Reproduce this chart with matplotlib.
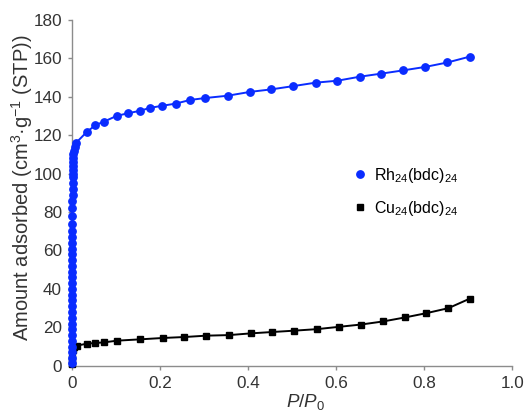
import matplotlib
matplotlib.use("Agg")
import matplotlib.pyplot as plt

plt.rcParams["font.family"] = ["Liberation Sans", "DejaVu Sans"]
plt.rcParams["mathtext.fontset"] = "custom"
plt.rcParams["mathtext.rm"] = "Liberation Sans"
plt.rcParams["mathtext.it"] = "Liberation Sans:italic"

# Rh24(bdc)24 isotherm
rh_x = [0.0002, 0.0003, 0.0003, 0.0004, 0.0004, 0.0005, 0.0005, 0.0006, 0.0006,
        0.0007, 0.0007, 0.0008, 0.0008, 0.0009, 0.0009, 0.001, 0.001, 0.0011,
        0.0011, 0.0012, 0.0012, 0.0013, 0.0013, 0.0014, 0.0015, 0.0016, 0.0017,
        0.0018, 0.0019, 0.002, 0.0021, 0.0022, 0.0024, 0.0026, 0.0028, 0.003,
        0.0035, 0.004, 0.005, 0.007, 0.01,
        0.034, 0.054, 0.073, 0.102, 0.128, 0.154, 0.178, 0.204, 0.236, 0.269,
        0.303, 0.354, 0.405, 0.453, 0.503, 0.554, 0.603, 0.654, 0.703, 0.753,
        0.803, 0.853, 0.903]
rh_y = [1.5, 4, 7, 10, 13, 16, 19, 22, 25, 28, 31, 34, 37, 40, 43, 46, 49, 52,
        55, 58, 61, 64, 67, 70, 74, 78, 82, 86, 89, 92, 95, 98, 100, 102, 104,
        106, 108, 110, 112, 114, 116,
        121.6, 125.2, 127, 130, 131.4, 132.6, 134.2, 135.2, 136.4, 138.3,
        139.3, 140.5, 142.5, 143.8, 145.5, 147.3, 148.3, 150.4, 152, 153.7,
        155.5, 157.8, 160.8]

# Cu24(bdc)24 isotherm
cu_x = [0.0003, 0.001, 0.003, 0.006, 0.011, 0.034, 0.053, 0.073, 0.103, 0.156,
        0.207, 0.256, 0.305, 0.357, 0.407, 0.455, 0.505, 0.557, 0.607, 0.657,
        0.707, 0.757, 0.805, 0.855, 0.904]
cu_y = [1, 4, 8, 10, 10.5, 11.5, 11.9, 12.2, 13.1, 13.8, 14.5, 15, 15.7, 16,
        16.9, 17.6, 18.3, 19.1, 20.3, 21.5, 23.1, 25.2, 27.4, 30, 35]

x_ticks = [0, 0.2, 0.4, 0.6, 0.8, 1.0]
x_ticklabels = ["0", "0.2", "0.4", "0.6", "0.8", "1.0"]
y_ticks = [0, 20, 40, 60, 80, 100, 120, 140, 160, 180]

fig = plt.figure(figsize=(5.27, 4.12), dpi=100)
ax = fig.add_axes([0.136, 0.112, 0.836, 0.840])

ax.plot(cu_x, cu_y, color="black", marker="s", markersize=4.5, lw=1.4,
        label="Cu$_{24}$(bdc)$_{24}$", zorder=3, clip_on=False)
ax.plot(rh_x, rh_y, color="#0a2cff", marker="o", markersize=5.3, lw=1.4,
        label="Rh$_{24}$(bdc)$_{24}$", zorder=4, clip_on=False)

ax.set_xlim(0, 1.0)
ax.set_ylim(0, 180)
ax.set_xticks(x_ticks)
ax.set_xticklabels(x_ticklabels)
ax.set_yticks(y_ticks)

for s in ["top", "right"]:
    ax.spines[s].set_visible(False)
for s in ["left", "bottom"]:
    ax.spines[s].set_color("#8c8c8c")
    ax.spines[s].set_linewidth(1.0)
ax.tick_params(colors="#8c8c8c", labelcolor="#333333", labelsize=12.3,
               length=3, width=1.0, direction="out", pad=4)

ax.set_ylabel("Amount adsorbed (cm$^{3}$·g$^{-1}$ (STP))", fontsize=14.5,
              color="#333333")
ax.yaxis.set_label_coords(-0.083, 0.515)
ax.set_xlabel("$P$/$P_0$", fontsize=13.5, color="#333333")
ax.xaxis.set_label_coords(0.53, -0.075)

handles, labels = ax.get_legend_handles_labels()
leg = ax.legend(handles[::-1], labels[::-1], loc="center left",
                bbox_to_anchor=(0.61, 0.503), frameon=False, fontsize=11.5,
                handlelength=0.6, handletextpad=0.6, labelspacing=0.85)
for h in leg.legend_handles:
    h.set_linestyle("none")

fig.savefig("out.png", dpi=100)
